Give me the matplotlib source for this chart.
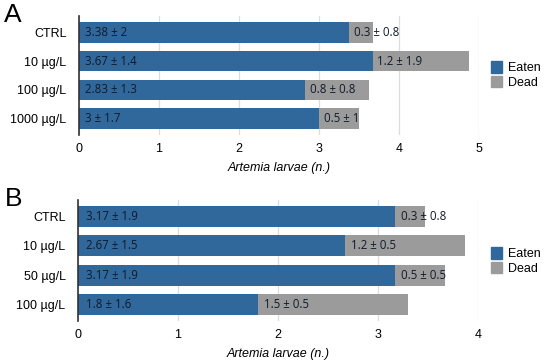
import numpy as np
import matplotlib
matplotlib.use("Agg")
import matplotlib.pyplot as plt
from matplotlib.patches import Patch

# panel A
cats_a = ["CTRL", "10 µg/L", "100 µg/L", "1000 µg/L"]
eaten_a = [3.38, 3.67, 2.83, 3.0]
eaten_sd_a = ["2", "1.4", "1.3", "1.7"]
dead_a = [0.3, 1.2, 0.8, 0.5]
dead_sd_a = ["0.8", "1.9", "0.8", "1"]
eaten_txt_a = ["3.38", "3.67", "2.83", "3"]
dead_txt_a = ["0.3", "1.2", "0.8", "0.5"]

# panel B
cats_b = ["CTRL", "10 µg/L", "50 µg/L", "100 µg/L"]
eaten_b = [3.17, 2.67, 3.17, 1.8]
eaten_sd_b = ["1.9", "1.5", "1.9", "1.6"]
dead_b = [0.3, 1.2, 0.5, 1.5]
dead_sd_b = ["0.8", "0.5", "0.5", "0.5"]
eaten_txt_b = ["3.17", "2.67", "3.17", "1.8"]
dead_txt_b = ["0.3", "1.2", "0.5", "1.5"]

blue = "#30689b"
grey = "#9b9b9b"
txt_col = "#111a2a"
lab_font = ["Open Sans", "DejaVu Sans"]
tick_font = ["Liberation Sans", "DejaVu Sans"]

fig = plt.figure(figsize=(5.5, 3.64), dpi=100)


def panel(rect, cats, eaten, dead, etxt, esd, dtxt, dsd, xmax, letter, leg_y):
    ax = fig.add_axes(rect)
    y = np.arange(len(cats))
    ax.barh(y, eaten, height=0.72, color=blue, zorder=2)
    ax.barh(y, dead, left=eaten, height=0.72, color=grey, zorder=2)
    for i in range(len(cats)):
        ax.text(0.08, y[i], f"{etxt[i]} ± {esd[i]}", va="center", ha="left",
                fontsize=8.3, color=txt_col, family=lab_font, zorder=3)
        ax.text(eaten[i] + 0.06, y[i], f"{dtxt[i]} ± {dsd[i]}", va="center",
                ha="left", fontsize=8.3, color=txt_col, family=lab_font, zorder=3)
    ax.set_yticks(y)
    ax.set_yticklabels(cats, family=tick_font, fontsize=9)
    ax.set_ylim(3.58, -0.58)
    ax.set_xlim(0, xmax)
    ax.set_xticks(range(xmax + 1))
    ax.set_xticklabels([str(v) for v in range(xmax + 1)], family=tick_font, fontsize=9)
    ax.tick_params(length=0, pad=6)
    ax.tick_params(axis="y", pad=9)
    ax.grid(axis="x", color="#dddddd", linewidth=0.9, zorder=0)
    for s in ["top", "right", "bottom"]:
        ax.spines[s].set_visible(False)
    ax.spines["left"].set_color("#333333")
    ax.spines["left"].set_linewidth(1.2)
    ax.spines["left"].set_zorder(4)
    ax.set_xlabel("Artemia larvae (n.)", style="italic", family=tick_font,
                  fontsize=9, labelpad=5)
    fig.text(0.008, rect[1] + rect[3] + 0.003, letter, fontsize=19,
             family=tick_font, va="center", ha="left")
    handles = [Patch(color=blue, label="Eaten"), Patch(color=grey, label="Dead")]
    fig.legend(handles=handles, loc="center left", bbox_to_anchor=(0.892, leg_y),
               frameon=False, prop={"family": tick_font, "size": 9},
               handlelength=0.95, handleheight=1.05, handletextpad=0.45,
               labelspacing=0.1, borderpad=0, borderaxespad=0)
    return ax


panel([79 / 550, 1 - 135 / 364, 400 / 550, 119 / 364], cats_a, eaten_a, dead_a,
      eaten_txt_a, eaten_sd_a, dead_txt_a, dead_sd_a, 5, "A", 1 - 75 / 364)
panel([78 / 550, 1 - 321 / 364, 400 / 550, 121 / 364], cats_b, eaten_b, dead_b,
      eaten_txt_b, eaten_sd_b, dead_txt_b, dead_sd_b, 4, "B", 1 - 261 / 364)

fig.savefig("out.png", dpi=100)
